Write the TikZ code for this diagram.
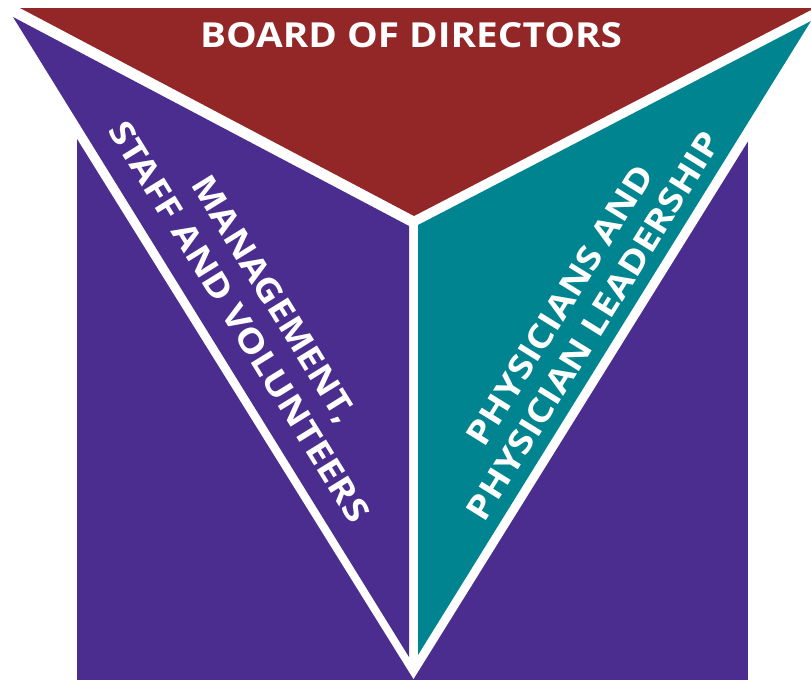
\documentclass[tikz,border=0pt]{standalone}
\usepackage{fontspec}
\setmainfont{Open Sans}
\usepackage{graphicx}
\definecolor{brdred}{RGB}{147,38,38}
\definecolor{mgmtpurple}{RGB}{75,45,143}
\definecolor{phyteal}{RGB}{0,132,144}
\tikzset{lbl/.style={text=white, font=\bfseries, inner sep=0pt}}
\begin{document}
\begin{tikzpicture}[x=1pt,y=-1pt]
\useasboundingbox (0,0) rectangle (811,680);
\clip (0,0) rectangle (811,680);
% background block
\fill[mgmtpurple] (77,137) rectangle (748,680);
% white outer triangle
\fill[white] (-15.6,-10) -- (842,-10) -- (413.5,679) -- cycle;
% three sectors
\fill[brdred] (20,8) -- (811,8) -- (811,10) -- (414,216) -- cycle;
\fill[mgmtpurple] (13,17) -- (409,226) -- (409,657) -- cycle;
\fill[phyteal] (811,21) -- (418,225) -- (418,655) -- cycle;
% labels
\node[lbl] (board) at (411,35.5) {\resizebox{422pt}{25pt}{BOARD OF DIRECTORS}};
\node[lbl, rotate=-58.3] (mgmt1) at (273,300) {\resizebox{283pt}{24pt}{MANAGEMENT,}};
\node[lbl, rotate=-58.3] (mgmt2) at (239.5,321.5) {\resizebox{464pt}{24pt}{STAFF AND VOLUNTEERS}};
\node[lbl, rotate=58.2] (phys1) at (560,305) {\resizebox{323pt}{24pt}{PHYSICIANS AND}};
\node[lbl, rotate=58.2] (phys2) at (593.5,326) {\resizebox{450pt}{24pt}{PHYSICIAN LEADERSHIP}};
\end{tikzpicture}
\end{document}
